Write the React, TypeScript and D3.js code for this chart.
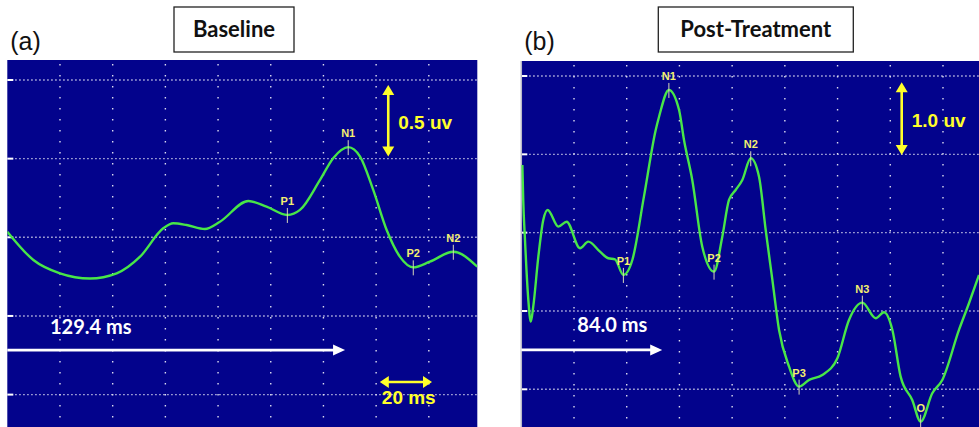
import * as d3 from 'd3';
import { type FC } from 'react';

// Baseline recording: latency (ms) and amplitude (uV, up = display up)
const BASE_TIME = [0, 9.9, 20, 31.4, 41.5, 50.4, 59.2, 63, 68.1, 75, 80.7, 91.5, 98.4, 106.3, 111.1, 118.7, 123.7, 129.4, 133.9, 138.9, 144, 149, 154.1, 160.4, 169.3, 178.4];
const BASE_AMP = [0.036, -0.144, -0.229, -0.262, -0.229, -0.123, 0.057, 0.089, 0.078, 0.053, 0.099, 0.231, 0.195, 0.142, 0.174, 0.365, 0.503, 0.573, 0.513, 0.301, 0.046, -0.123, -0.191, -0.155, -0.092, -0.187];
const BASE_PEAK_LABELS = ['P1', 'N1', 'P2', 'N2'];
const BASE_PEAK_TIME = [106.3, 129.4, 154.1, 169.3];

// Post-treatment recording
const POST_TIME = [0.6, 1.1, 2.1, 4.0, 5.4, 6.8, 9.7, 12.5, 15.0, 21.1, 25.8, 33.4, 38.1, 44.8, 49.5, 53.3, 58.1, 63.2, 69.8, 76.5, 78.4, 84.0, 89.8, 92.6, 97.3, 103.0, 109.7, 114.4, 118.2, 122.0, 125.8, 130.6, 135.3, 139.1, 142.9, 146.7, 152.4, 158.1, 163.8, 171.3, 179.9, 186.5, 194.1, 201.7, 206.4, 211.2, 215.9, 222.5, 227.3, 233.9, 239.6, 249.1, 254.8, 260.5];
const POST_AMP = [0.864, 0.417, -0.093, -0.859, -1.136, -0.945, -0.306, 0.162, 0.29, 0.077, 0.14, -0.199, -0.115, -0.243, -0.327, -0.34, -0.54, -0.349, 0.46, 1.311, 1.48, 1.822, 1.566, 1.183, 0.673, -0.179, -0.498, -0.051, 0.417, 0.545, 0.673, 0.95, 0.715, 0.034, -0.604, -1.242, -1.711, -1.966, -1.88, -1.817, -1.603, -1.115, -0.894, -1.093, -1.016, -1.242, -1.838, -2.136, -2.413, -2.05, -1.881, -1.242, -0.901, -0.54];
const POST_PEAK_LABELS = ['P1', 'N1', 'P2', 'N2', 'P3', 'N3', 'O'];
const POST_PEAK_TIME = [58.1, 84.0, 109.7, 130.6, 158.1, 194.1, 227.3];

const BASE_GRID_AMP = [-1, -0.5, 0, 0.5, 1];
const POST_GRID_AMP = [-2, -1, 0, 1, 2];

const BLUE = '#03038c';
const GREEN = '#48e648';
const YELLOW = '#ffff2a';
const DOTS = '#dcdcf0';
const CALIBRI = 'Lato, "Open Sans", sans-serif';
const ARIAL = '"Liberation Sans", Arial, sans-serif';

interface Point {
  t: number;
  a: number;
}

interface PanelProps {
  id: string;
  letter: string;
  title: string;
  titleBox: [number, number];
  times: number[];
  amps: number[];
  peakLabels: string[];
  peakTimes: number[];
  gridStep: number;
  gridAmps: number[];
  xDomain: [number, number];
  xRange: [number, number];
  yDomain: [number, number];
  yRange: [number, number];
  top: number;
  border?: boolean;
  ampBar: { t: number; a0: number; a1: number; label: string };
  latency: { label: string; tx: number; ta: number; arrowEnd: number; arrowA: number };
  timeBar?: { t0: number; t1: number; a: number; label: string };
}

// solid triangle with its tip at (x, y), pointing in direction (dx, dy)
const head = (x: number, y: number, dx: number, dy: number, len: number, half: number) => {
  const bx = x - dx * len;
  const by = y - dy * len;
  const px = -dy * half;
  const py = dx * half;
  return `M${x},${y}L${bx + px},${by + py}L${bx - px},${by - py}Z`;
};

const Panel: FC<PanelProps> = (p) => {
  const x = d3.scaleLinear().domain(p.xDomain).range(p.xRange);
  const y = d3.scaleLinear().domain(p.yDomain).range(p.yRange);
  const [left, right] = p.xRange;
  const bottom = 427;

  const data: Point[] = p.times.map((t, i) => ({ t, a: p.amps[i] }));
  const line = d3
    .line<Point>()
    .x((d) => x(d.t))
    .y((d) => y(d.a))
    .curve(d3.curveMonotoneX);

  const vGrid = d3.range(p.gridStep, p.xDomain[1], p.gridStep);
  const peaks = p.peakTimes.map((t, i) => {
    const idx = p.times.indexOf(t);
    return { t, a: p.amps[idx], label: p.peakLabels[i] };
  });

  const barX = x(p.ampBar.t);
  const barTop = y(p.ampBar.a0);
  const barBot = y(p.ampBar.a1);
  const [bx0, bx1] = p.titleBox;

  return (
    <g>
      <text x={x(0) + 3} y={50} fontFamily={ARIAL} fontSize={25} fill="#111">
        {p.letter}
      </text>
      <rect x={bx0} y={7} width={bx1 - bx0} height={45} fill="#fff" stroke="#222" strokeWidth={1.3} />
      <text
        x={(bx0 + bx1) / 2}
        y={37}
        textAnchor="middle"
        fontFamily={CALIBRI}
        fontWeight="bold"
        fontSize={22}
        fill="#111"
      >
        {p.title}
      </text>

      <defs>
        <clipPath id={`clip-${p.id}`}>
          <rect x={left} y={p.top} width={right - left} height={bottom - p.top} />
        </clipPath>
      </defs>
      <rect x={left} y={p.top} width={right - left} height={bottom - p.top} fill={BLUE} />

      {vGrid.map((t) => (
        <line
          key={`v${t}`}
          x1={x(t)}
          x2={x(t)}
          y1={p.top + 4}
          y2={bottom}
          stroke={DOTS}
          strokeWidth={1.4}
          strokeDasharray="1.4 9.6"
        />
      ))}
      {p.gridAmps.map((a) => (
        <g key={`h${a}`}>
          <line
            x1={left + 8}
            x2={right}
            y1={y(a)}
            y2={y(a)}
            stroke={DOTS}
            strokeWidth={1.4}
            strokeDasharray="1.3 2.7"
          />
          <line x1={left} x2={left + 6} y1={y(a)} y2={y(a)} stroke="#fff" strokeWidth={2} />
        </g>
      ))}
      {p.border && (
        <line x1={left} x2={left} y1={p.top} y2={bottom} stroke="#b8b8c8" strokeWidth={1.5} />
      )}

      <path
        d={line(data) ?? ''}
        fill="none"
        stroke={GREEN}
        strokeWidth={2.4}
        strokeLinejoin="round"
        clipPath={`url(#clip-${p.id})`}
      />

      {peaks.map((d) => (
        <g key={d.label}>
          <line
            x1={x(d.t)}
            x2={x(d.t)}
            y1={y(d.a) - 7}
            y2={y(d.a) + 8}
            stroke="#d8d8b8"
            strokeWidth={1}
          />
          <text
            x={x(d.t)}
            y={y(d.a) - 10}
            textAnchor="middle"
            fontFamily={ARIAL}
            fontWeight="bold"
            fontSize={11}
            fill="#f4f070"
          >
            {d.label}
          </text>
        </g>
      ))}

      {/* amplitude calibration bar */}
      <line x1={barX} x2={barX} y1={barTop + 8} y2={barBot - 8} stroke={YELLOW} strokeWidth={2.6} />
      <path d={head(barX, barTop, 0, -1, 10, 6)} fill={YELLOW} />
      <path d={head(barX, barBot, 0, 1, 10, 6)} fill={YELLOW} />
      <text
        x={barX + 10}
        y={(barTop + barBot) / 2 + 8}
        fontFamily={ARIAL}
        fontWeight="bold"
        fontSize={19}
        fill={YELLOW}
      >
        {p.ampBar.label}
      </text>

      {/* latency arrow */}
      <text
        x={x(p.latency.tx)}
        y={y(p.latency.ta)}
        fontFamily={CALIBRI}
        fontWeight="bold"
        fontSize={20}
        fill="#fff"
      >
        {p.latency.label}
      </text>
      <line
        x1={left}
        x2={x(p.latency.arrowEnd) - 8}
        y1={y(p.latency.arrowA)}
        y2={y(p.latency.arrowA)}
        stroke="#fff"
        strokeWidth={2.6}
      />
      <path d={head(x(p.latency.arrowEnd), y(p.latency.arrowA), 1, 0, 12, 5.5)} fill="#fff" />

      {p.timeBar && (
        <g>
          <line
            x1={x(p.timeBar.t0) + 8}
            x2={x(p.timeBar.t1) - 8}
            y1={y(p.timeBar.a)}
            y2={y(p.timeBar.a)}
            stroke={YELLOW}
            strokeWidth={2.4}
          />
          <path d={head(x(p.timeBar.t0), y(p.timeBar.a), -1, 0, 9, 6)} fill={YELLOW} />
          <path d={head(x(p.timeBar.t1), y(p.timeBar.a), 1, 0, 9, 6)} fill={YELLOW} />
          <text
            x={x(p.timeBar.t0) + 2}
            y={y(p.timeBar.a) + 22}
            fontFamily={ARIAL}
            fontWeight="bold"
            fontSize={19}
            fill={YELLOW}
          >
            {p.timeBar.label}
          </text>
        </g>
      )}
    </g>
  );
};

const App: FC = () => (
  <svg
    width={979}
    height={427}
    viewBox="0 0 979 427"
    style={{ position: 'absolute', left: 0, top: 0, background: '#fff' }}
  >
    <Panel
      id="a"
      letter="(a)"
      title="Baseline"
      titleBox={[174, 294]}
      times={BASE_TIME}
      amps={BASE_AMP}
      peakLabels={BASE_PEAK_LABELS}
      peakTimes={BASE_PEAK_TIME}
      gridStep={20}
      gridAmps={BASE_GRID_AMP}
      xDomain={[0, 178.4]}
      xRange={[7.3, 477.3]}
      yDomain={[-1, 1]}
      yRange={[394.6, 80]}
      top={60}
      ampBar={{ t: 144.6, a0: 0.969, a1: 0.513, label: '0.5 uv' }}
      latency={{ label: '129.4 ms', tx: 16.2, ta: -0.615, arrowEnd: 128.2, arrowA: -0.717 }}
      timeBar={{ t0: 141.4, t1: 161.2, a: -0.92, label: '20 ms' }}
    />
    <Panel
      id="b"
      letter="(b)"
      title="Post-Treatment"
      titleBox={[658.3, 853.3]}
      times={POST_TIME}
      amps={POST_AMP}
      peakLabels={POST_PEAK_LABELS}
      peakTimes={POST_PEAK_TIME}
      gridStep={30}
      gridAmps={POST_GRID_AMP}
      xDomain={[0, 260.5]}
      xRange={[521.3, 979]}
      yDomain={[-2, 2]}
      yRange={[389.3, 76]}
      top={61}
      border
      ampBar={{ t: 216.5, a0: 1.92, a1: 0.99, label: '1.0 uv' }}
      latency={{ label: '84.0 ms', tx: 31.9, ta: -1.264, arrowEnd: 80.2, arrowA: -1.497 }}
    />
  </svg>
);

export default App;
